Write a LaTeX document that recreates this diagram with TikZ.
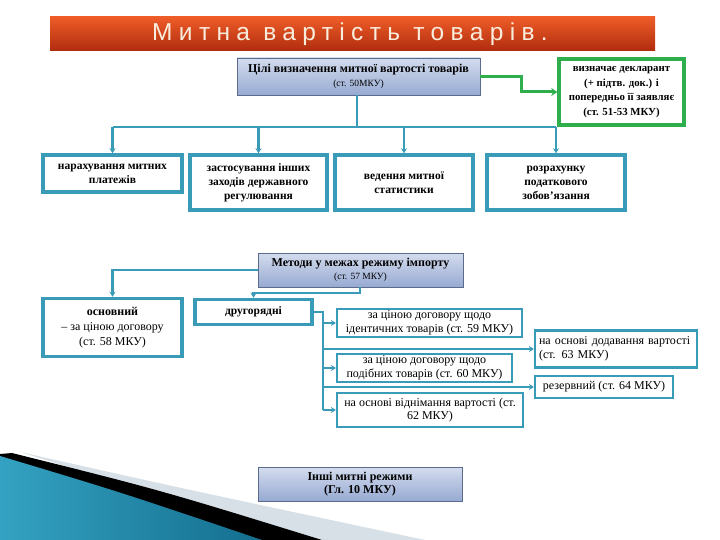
\documentclass[tikz,border=0pt]{standalone}
\usepackage{fontspec}
\setmainfont{Liberation Serif}
\newfontfamily\titlefont[LetterSpace=26]{Liberation Sans}
\usetikzlibrary{shadows,arrows.meta}
\definecolor{tealc}{HTML}{3A9BB8}
\definecolor{greenc}{HTML}{2FAE4E}
\definecolor{bboxline}{HTML}{5B6B8C}
\definecolor{btop}{HTML}{D4DCEE}
\definecolor{bbot}{HTML}{97AAD2}
\definecolor{ttop}{HTML}{EE5C28}
\definecolor{tbot}{HTML}{B02C0E}
\begin{document}
\begin{tikzpicture}[x=1pt,y=-1pt,
  bluebox/.style={draw=bboxline, line width=0.8pt, top color=btop, bottom color=bbot, align=center, font=\fontsize{12}{13.5}\selectfont, inner sep=1pt},
  tealbig/.style={draw=tealc, line width=3.5pt, fill=white, align=center, font=\fontsize{11.5}{14}\selectfont\bfseries, inner sep=1pt, drop shadow={opacity=0.25, shadow xshift=1.2pt, shadow yshift=-1.2pt}},
  tealsm/.style={draw=tealc, line width=2.2pt, fill=white, align=center, font=\fontsize{12}{13.5}\selectfont, inner sep=1pt, drop shadow={opacity=0.25, shadow xshift=1.2pt, shadow yshift=-1.2pt}},
  greenbox/.style={draw=greenc, line width=3.5pt, fill=white, align=center, font=\fontsize{10.8}{14.5}\selectfont\bfseries, inner sep=1pt},
  conn/.style={draw=tealc, line width=2.2pt, -{Stealth[length=5pt,width=6pt]}},
  gconn/.style={draw=greenc, line width=3pt, -{Stealth[length=6pt,width=8pt]}}
]
\useasboundingbox (0,0) rectangle (720,540);
\fill[white] (0,0) rectangle (720,540);

% decorative swoosh
\fill[color={rgb,255:red,214;green,224;blue,230}] (20,452) .. controls (180,488) .. (425,540) -- (300,540) -- cycle;
\fill[black] (12,453) .. controls (160,490) .. (322,540) -- (255,540) .. controls (140,502) .. (0,459) -- (0,454) -- cycle;
\shade[left color={rgb,255:red,52;green,162;blue,194}, right color={rgb,255:red,20;green,110;blue,142}] (0,456) .. controls (120,492) .. (262,540) -- (0,540) -- cycle;

% title bar
\shade[top color=ttop, bottom color=tbot] (50,17) rectangle (655,51);
\node[font=\titlefont\fontsize{24.5}{25}\selectfont, text={rgb,255:red,248;green,236;blue,220}] (title) at (350,34) {Митна вартість товарів.};

% top
\node[bluebox, minimum width=243pt, minimum height=37pt] (goal) at (358.5,76.5) {\textbf{Цілі визначення митної вартості товарів}\\[0pt]{\fontsize{9.5}{10}\selectfont (ст. 50МКУ)}};
\node[greenbox, minimum width=125pt, minimum height=66pt] (decl) at (621.5,92) {визначає декларант\\(+ підтв. док.) і\\попередньо її заявляє\\(ст. 51-53 МКУ)};
\coordinate (gj1) at (521,77);
\coordinate (gj2) at (521,92);
\draw[gconn] (goal.east |- gj1) -- (gj1) -- (gj2) -- (decl.west |- gj2);

% second row
\node[tealbig, minimum width=139pt, minimum height=37pt] (b1) at (112.5,173.5) {нарахування митних\\платежів};
\node[tealbig, minimum width=137pt, minimum height=55pt] (b2) at (258.5,182.5) {застосування інших\\заходів державного\\регулювання};
\node[tealbig, minimum width=138pt, minimum height=55pt] (b3) at (404,182.5) {ведення митної\\статистики};
\node[tealbig, minimum width=138pt, minimum height=55pt] (b4) at (556,182.5) {розрахунку\\податкового\\зобов'язання};
\coordinate (tj) at (357,127);
\draw[draw=tealc, line width=2.2pt] (goal.south -| tj) -- (tj);
\draw[draw=tealc, line width=2.2pt] (b1.north |- tj) -- (b4.north |- tj);
\foreach \b in {b1,b2,b3,b4} \draw[conn] (\b.north |- tj) -- (\b.north);

% methods
\node[bluebox, minimum width=205pt, minimum height=34pt] (meth) at (360.5,270) {\textbf{Методи у межах режиму імпорту}\\[0pt]{\fontsize{9.5}{10}\selectfont (ст. 57 МКУ)}};
\node[tealbig, font=\fontsize{12}{15}\selectfont, minimum width=139pt, minimum height=58pt] (osn) at (112.5,327.5) {\textbf{основний}\\– за ціною договору\\(ст. 58 МКУ)};
\node[tealbig, minimum width=117pt, minimum height=25pt] (dr) at (253.5,312) {другорядні};
\coordinate (mj1) at (360,293);
\draw[conn] (meth.west) -| (osn.north);
\draw[conn] (meth.south -| mj1) -- (mj1) -| (dr.north);

% secondary methods
\node[tealsm, minimum width=185pt, minimum height=28pt] (m59) at (429.5,323) {за ціною договору щодо\\ідентичних товарів (ст. 59 МКУ)};
\node[tealsm, minimum width=175pt, minimum height=28pt] (m60) at (424.5,368) {за ціною договору щодо\\подібних товарів (ст. 60 МКУ)};
\node[tealsm, minimum width=186pt, minimum height=34pt] (m62) at (430,410) {на основі віднімання вартості (ст.\\62 МКУ)};
\node[tealsm, align=left, text width=154pt, minimum width=162pt, minimum height=37pt] (m63) at (616,349) {на основі додавання вартості\\(ст. 63 МКУ)};
\node[tealsm, minimum width=138pt, minimum height=22pt] (m64) at (604,387) {резервний (ст. 64 МКУ)};
\coordinate (vj) at (323,312);
\coordinate (vb) at (323,410);
\draw[draw=tealc, line width=2.2pt] (dr.east) -- (vj) -- (vb);
\draw[conn] (vj |- m59) -- (m59.west);
\draw[conn] (vj |- m63) -- (m63.west);
\draw[conn] (vj |- m60) -- (m60.west);
\draw[conn] (vj |- m64) -- (m64.west);
\draw[conn] (vb) -- (m62.west);

% other regimes
\node[bluebox, minimum width=204pt, minimum height=34pt] (oth) at (360,484) {\textbf{Інші митні режими}\\\textbf{(Гл. 10 МКУ)}};
\end{tikzpicture}
\end{document}
